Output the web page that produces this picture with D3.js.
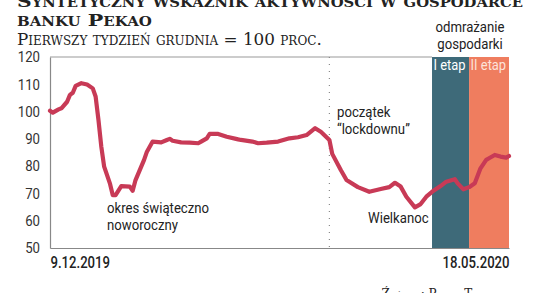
<!DOCTYPE html>
<html><head><meta charset="utf-8">
<script src="https://cdn.jsdelivr.net/npm/d3@7"></script>
<style>
html,body{margin:0;padding:0;background:#fff;}
svg{display:block;}
.serif{font-family:"DejaVu Serif","Liberation Serif",serif;font-variant:small-caps;}
.sans{font-family:Roboto,"Liberation Sans",sans-serif;}
</style></head>
<body>
<svg id="chart" width="536" height="293"></svg>
<script>
// ---- data ----
const dates = ["2019-12-09","2019-12-10","2019-12-12","2019-12-13","2019-12-15","2019-12-16","2019-12-17","2019-12-18","2019-12-20","2019-12-22","2019-12-24","2019-12-25","2019-12-26","2019-12-27","2019-12-28","2019-12-30","2019-12-31","2020-01-01","2020-01-03","2020-01-06","2020-01-07","2020-01-08","2020-01-10","2020-01-11","2020-01-12","2020-01-14","2020-01-17","2020-01-19","2020-01-20","2020-01-21","2020-01-24","2020-01-27","2020-01-30","2020-01-31","2020-02-02","2020-02-03","2020-02-06","2020-02-09","2020-02-13","2020-02-14","2020-02-18","2020-02-20","2020-02-23","2020-02-27","2020-03-02","2020-03-05","2020-03-08","2020-03-11","2020-03-13","2020-03-16","2020-03-17","2020-03-20","2020-03-22","2020-03-26","2020-03-30","2020-04-03","2020-04-06","2020-04-08","2020-04-10","2020-04-12","2020-04-15","2020-04-17","2020-04-19","2020-04-21","2020-04-24","2020-04-26","2020-04-29","2020-04-30","2020-05-02","2020-05-04","2020-05-06","2020-05-08","2020-05-10","2020-05-11","2020-05-13","2020-05-15","2020-05-17","2020-05-18"];
const values = [100.3,99.6,100.8,101.2,103.6,106.1,106.9,109.4,110.4,109.9,108.5,105.5,96.9,87.1,79.8,73.7,69.4,69.4,72.7,72.5,71.0,74.9,79.8,82.3,85.3,89.0,88.7,89.6,90.0,89.3,88.7,88.6,88.4,89.0,90.2,91.8,91.8,90.8,89.8,89.6,89.0,88.4,88.6,89.0,90.2,90.6,91.4,93.9,92.6,89.6,84.5,78.6,74.9,72.3,70.6,71.6,72.3,73.9,72.5,68.8,64.9,66.1,68.8,70.6,72.7,74.3,75.2,73.7,71.5,72.3,73.7,79.2,82.3,82.9,84.1,83.5,83.1,83.7];
const yTicks = [50,60,70,80,90,100,110,120];
const xTickLabels = ["9.12.2019","18.05.2020"];
const xDomain = ["2019-12-09","2020-05-18"];
const lockdownDate = "2020-03-16";
const phaseNames = ["I etap","II etap"];
const phaseStarts = ["2020-04-21","2020-05-04"];
const phaseEnds = ["2020-05-04","2020-05-18"];
const titleLines = ["Syntetyczny wskaźnik aktywności w gospodarce","banku Pekao"];
const subtitle = "Pierwszy tydzień grudnia = 100 proc.";
const source = "Źródło: Pekao Tracker";

// ---- helpers ----
function condense(sel, f){
  sel.each(function(){
    const L = this.getComputedTextLength();
    d3.select(this).attr("textLength", L*f).attr("lengthAdjust","spacingAndGlyphs");
  });
}

// ---- layout ----
const parse = d3.timeParse("%Y-%m-%d");
const W = 536, H = 293;
const m = {left:50, right:27, top:57, bottom:45};
const svg = d3.select("#chart");
const x = d3.scaleTime().domain(xDomain.map(parse)).range([m.left, W - m.right]);
const y = d3.scaleLinear().domain([50,120]).range([H - m.bottom, m.top]);

// phase bands
const phaseColors = ["#3e6a79","#ef7d5f"];
const phaseText = ["#ffffff","#fde3da"];
phaseNames.forEach((n,i)=>{
  const x0 = x(parse(phaseStarts[i])), x1 = x(parse(phaseEnds[i]));
  svg.append("rect").attr("x",x0).attr("y",y(120)).attr("width",x1-x0).attr("height",y(50)-y(120)).attr("fill",phaseColors[i]);
  const t = svg.append("text").attr("class","sans").attr("x",x0+1.5).attr("y",y(120)+13)
    .attr("font-size",15).attr("fill",phaseText[i]).text(n);
  condense(t, 0.86);
});

// top grid line
svg.append("line").attr("x1",m.left).attr("x2",x(parse(phaseStarts[0]))).attr("y1",y(120)).attr("y2",y(120))
  .attr("stroke","#9a9a9a").attr("stroke-width",1.2);

// lockdown dotted line
const xl = x(parse(lockdownDate));
svg.append("line").attr("x1",xl).attr("x2",xl).attr("y1",y(120)).attr("y2",y(50))
  .attr("stroke","#8a8a8a").attr("stroke-width",1.2).attr("stroke-dasharray","1,6");

// y axis
const yAxis = d3.axisLeft(y).tickValues(yTicks).tickSize(0).tickPadding(10);
const gy = svg.append("g").attr("transform",`translate(${m.left},0)`).call(yAxis);
gy.select(".domain").attr("stroke","#888").attr("stroke-width",1.2);
gy.selectAll("text").attr("class","sans").attr("font-size",15).attr("fill","#333");
condense(gy.selectAll("text"), 0.88);

// x axis
const xAxis = d3.axisBottom(x).tickValues(xDomain.map(parse)).tickSize(0).tickPadding(6)
  .tickFormat((d,i)=>xTickLabels[i]);
const gx = svg.append("g").attr("transform",`translate(0,${y(50)})`).call(xAxis);
gx.select(".domain").attr("stroke","#888").attr("stroke-width",1.2);
gx.selectAll("text").attr("class","sans").attr("font-size",16).attr("font-weight",500).attr("fill","#222")
  .attr("text-anchor",(d,i)=>i===0?"start":"end").attr("dy","0.85em");
condense(gx.selectAll("text"), 0.82);

// line
const data = dates.map((d,i)=>({date:parse(d), v:values[i]}));
svg.append("path").datum(data)
  .attr("d", d3.line().x(d=>x(d.date)).y(d=>y(d.v)))
  .attr("fill","none").attr("stroke","#c83a56").attr("stroke-width",4.2)
  .attr("stroke-linejoin","round").attr("stroke-linecap","round");

// annotations
function ann(lines, x0, y0, anchor){
  lines.forEach((l,i)=>{
    const t = svg.append("text").attr("class","sans").attr("font-size",14).attr("fill","#222")
      .attr("text-anchor",anchor||"start").attr("x",x0).attr("y",y0+i*16.6).text(l);
    condense(t, 0.94);
  });
}
ann(["okres świąteczno","noworoczny"], 107, 213);
ann(["początek","“lockdownu”"], 337, 117);
ann(["Wielkanoc"], 368, 223);
ann(["odmrażanie","gospodarki"], 470, 32, "middle");

// titles
const t1 = svg.append("text").attr("class","serif").attr("x",17).attr("y",7).attr("font-size",16.5).attr("font-weight",700).attr("fill","#222").text(titleLines[0]);
const t2 = svg.append("text").attr("class","serif").attr("x",17).attr("y",26).attr("font-size",16.5).attr("font-weight",700).attr("fill","#222").text(titleLines[1]);
condense(t1, 1.23); condense(t2, 1.25);
svg.append("text").attr("class","serif").attr("x",17).attr("y",45).attr("font-size",16.8).attr("fill","#222").text(subtitle);
svg.append("text").attr("class","serif").attr("x",508).attr("y",298).attr("text-anchor","end").attr("font-size",12).attr("fill","#222").text(source);
</script>
</body></html>
